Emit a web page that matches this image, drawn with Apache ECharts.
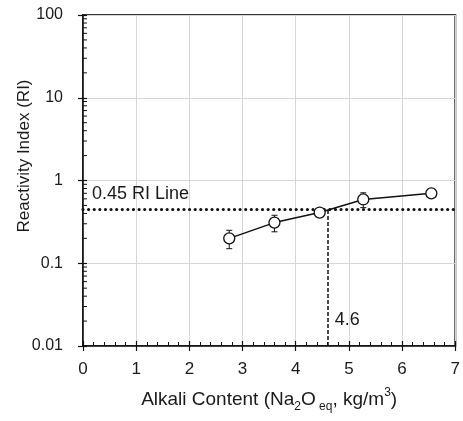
<!DOCTYPE html>
<html>
<head>
<meta charset="utf-8">
<script src="https://cdn.jsdelivr.net/npm/echarts@6/dist/echarts.min.js"></script>
<style>
  html, body { margin: 0; padding: 0; background: #fff; }
  #chart { width: 463px; height: 421px; }
</style>
</head>
<body>
<div id="chart"></div>
<script>
// alkali content (kg/m3) and reactivity index
const alkali = [2.75, 3.6, 4.45, 5.27, 6.55];
const riMean = [0.20, 0.31, 0.41, 0.59, 0.70];
const riErr = [0.05, 0.07, 0.03, 0.12, 0.03];
// reference lines
const riLimit = 0.45;
const alkaliAtLimit = 4.6;
const yTicks = [0.01, 0.1, 1, 10, 100];
// log minor ticks on the y axis
const yMinorTicks = [
  0.02, 0.03, 0.04, 0.05, 0.06, 0.07, 0.08, 0.09,
  0.2, 0.3, 0.4, 0.5, 0.6, 0.7, 0.8, 0.9,
  2, 3, 4, 5, 6, 7, 8, 9,
  20, 30, 40, 50, 60, 70, 80, 90
];

const FONT = '"Liberation Sans", Arial, sans-serif';
const TXT = '#1a1a1a';

const dom = document.getElementById('chart');
const myChart = echarts.init(dom, null, { renderer: 'canvas' });

const points = alkali.map((x, i) => [x, riMean[i]]);
const errData = alkali.map((x, i) => [x, riMean[i] - riErr[i], riMean[i] + riErr[i]]);

const option = {
  animation: false,
  grid: {
    left: 83, right: 4, top: 15, bottom: 75,
    show: true, borderColor: '#333', borderWidth: 2, backgroundColor: 'transparent'
  },
  xAxis: [
    {
      type: 'value', min: 0, max: 7, interval: 1,
      axisLine: { lineStyle: { color: '#111', width: 1.5 } },
      axisTick: { show: true, length: 5, lineStyle: { color: '#111', width: 1.2 } },
      axisLabel: { color: TXT, fontSize: 17, fontFamily: FONT, margin: 15 },
      splitLine: { show: true, lineStyle: { color: '#d6d6d6', width: 1 } },
      name: 'Alkali Content (Na{sub|2}O{sub| eq}, kg/m{sup|3})',
      nameLocation: 'middle', nameGap: 41,
      nameTextStyle: {
        color: TXT, fontSize: 19, fontFamily: FONT, lineHeight: 26,
        rich: {
          sub: { fontSize: 12, fontFamily: FONT, color: TXT, verticalAlign: 'bottom', lineHeight: 10 },
          sup: { fontSize: 12, fontFamily: FONT, color: TXT, verticalAlign: 'top', lineHeight: 14 }
        }
      }
    },
    {
      type: 'value', min: 0, max: 7, interval: 1, position: 'bottom',
      axisLine: { show: false },
      axisTick: { show: true, inside: true, length: 5, lineStyle: { color: '#111', width: 1.2 } },
      minorTick: { show: true, splitNumber: 5, length: 4, lineStyle: { color: '#111', width: 1 } },
      axisLabel: { show: false },
      splitLine: { show: false }
    }
  ],
  yAxis: [
    {
      type: 'log', logBase: 10, min: 0.01, max: 100,
      axisLine: { show: true, lineStyle: { color: '#111', width: 1.5 } },
      axisTick: { show: true, length: 5, lineStyle: { color: '#111', width: 1.2 } },
      axisLabel: {
        color: TXT, fontSize: 16, fontFamily: FONT, margin: 20,
        formatter: v => String(yTicks.find(t => Math.abs(Math.log10(t) - Math.log10(v)) < 1e-6) ?? v)
      },
      splitLine: { show: true, lineStyle: { color: '#d6d6d6', width: 1 } }
    },
    {
      type: 'log', logBase: 10, min: 0.01, max: 100, position: 'left',
      axisLine: { show: false },
      axisTick: { show: true, inside: true, length: 4, lineStyle: { color: '#111', width: 1.2 } },
      axisLabel: { show: false },
      splitLine: { show: false }
    }
  ],
  series: [
    {
      // minor log ticks, inside the y axis
      type: 'custom',
      xAxisIndex: 0, yAxisIndex: 0,
      silent: true, z: 4,
      data: yMinorTicks.map(v => [0, v]),
      renderItem: function (params, api) {
        const p = api.coord([0, api.value(1)]);
        return {
          type: 'line',
          shape: { x1: p[0], y1: p[1], x2: p[0] + 4, y2: p[1] },
          style: { stroke: '#111', lineWidth: 1 }
        };
      }
    },
    {
      // error bars
      type: 'custom',
      xAxisIndex: 0, yAxisIndex: 0,
      z: 3,
      data: errData,
      renderItem: function (params, api) {
        const lo = api.coord([api.value(0), api.value(1)]);
        const hi = api.coord([api.value(0), api.value(2)]);
        const w = 3;
        const st = { stroke: '#111', lineWidth: 1 };
        return {
          type: 'group',
          children: [
            { type: 'line', shape: { x1: lo[0], y1: lo[1], x2: hi[0], y2: hi[1] }, style: st },
            { type: 'line', shape: { x1: lo[0] - w, y1: lo[1], x2: lo[0] + w, y2: lo[1] }, style: st },
            { type: 'line', shape: { x1: hi[0] - w, y1: hi[1], x2: hi[0] + w, y2: hi[1] }, style: st }
          ]
        };
      }
    },
    {
      type: 'line',
      xAxisIndex: 0, yAxisIndex: 0,
      data: points,
      z: 5,
      symbol: 'circle', symbolSize: 11,
      itemStyle: { color: '#fff', borderColor: '#111', borderWidth: 1.3 },
      lineStyle: { color: '#111', width: 1.5 },
      markLine: {
        silent: true, symbol: 'none', label: { show: false },
        data: [
          [{ coord: [0, riLimit], lineStyle: { color: '#111', width: 3.2, type: [0.01, 5.6], cap: 'round' } },
           { coord: [7, riLimit] }],
          [{ coord: [alkaliAtLimit, 0.01], lineStyle: { color: '#111', width: 1.5, type: [4, 2] } },
           { coord: [alkaliAtLimit, riLimit] }]
        ]
      }
    }
  ]
};

if (option && typeof option === 'object') {
  myChart.setOption(option);
}

// annotation texts placed through the axes
const p1 = myChart.convertToPixel({ gridIndex: 0 }, [0, riLimit]);
const p2 = myChart.convertToPixel({ gridIndex: 0 }, [alkaliAtLimit, 0.01]);
myChart.setOption({
  graphic: [
    { type: 'text', x: p1[0] + 9, y: p1[1] - 15,
      style: { text: '0.45 RI Line', fill: TXT, font: '18px ' + FONT, textVerticalAlign: 'middle' } },
    { type: 'text', x: p2[0] + 7, y: p2[1] - 26,
      style: { text: '4.6', fill: TXT, font: '18px ' + FONT, textVerticalAlign: 'middle' } },
    { type: 'text', x: 24, y: 156, rotation: Math.PI / 2,
      style: { text: 'Reactivity Index (RI)', fill: TXT, font: '17px ' + FONT,
        textAlign: 'center', textVerticalAlign: 'middle' } }
  ]
});

window.addEventListener('resize', function () {
  myChart.resize();
});
</script>
</body>
</html>
